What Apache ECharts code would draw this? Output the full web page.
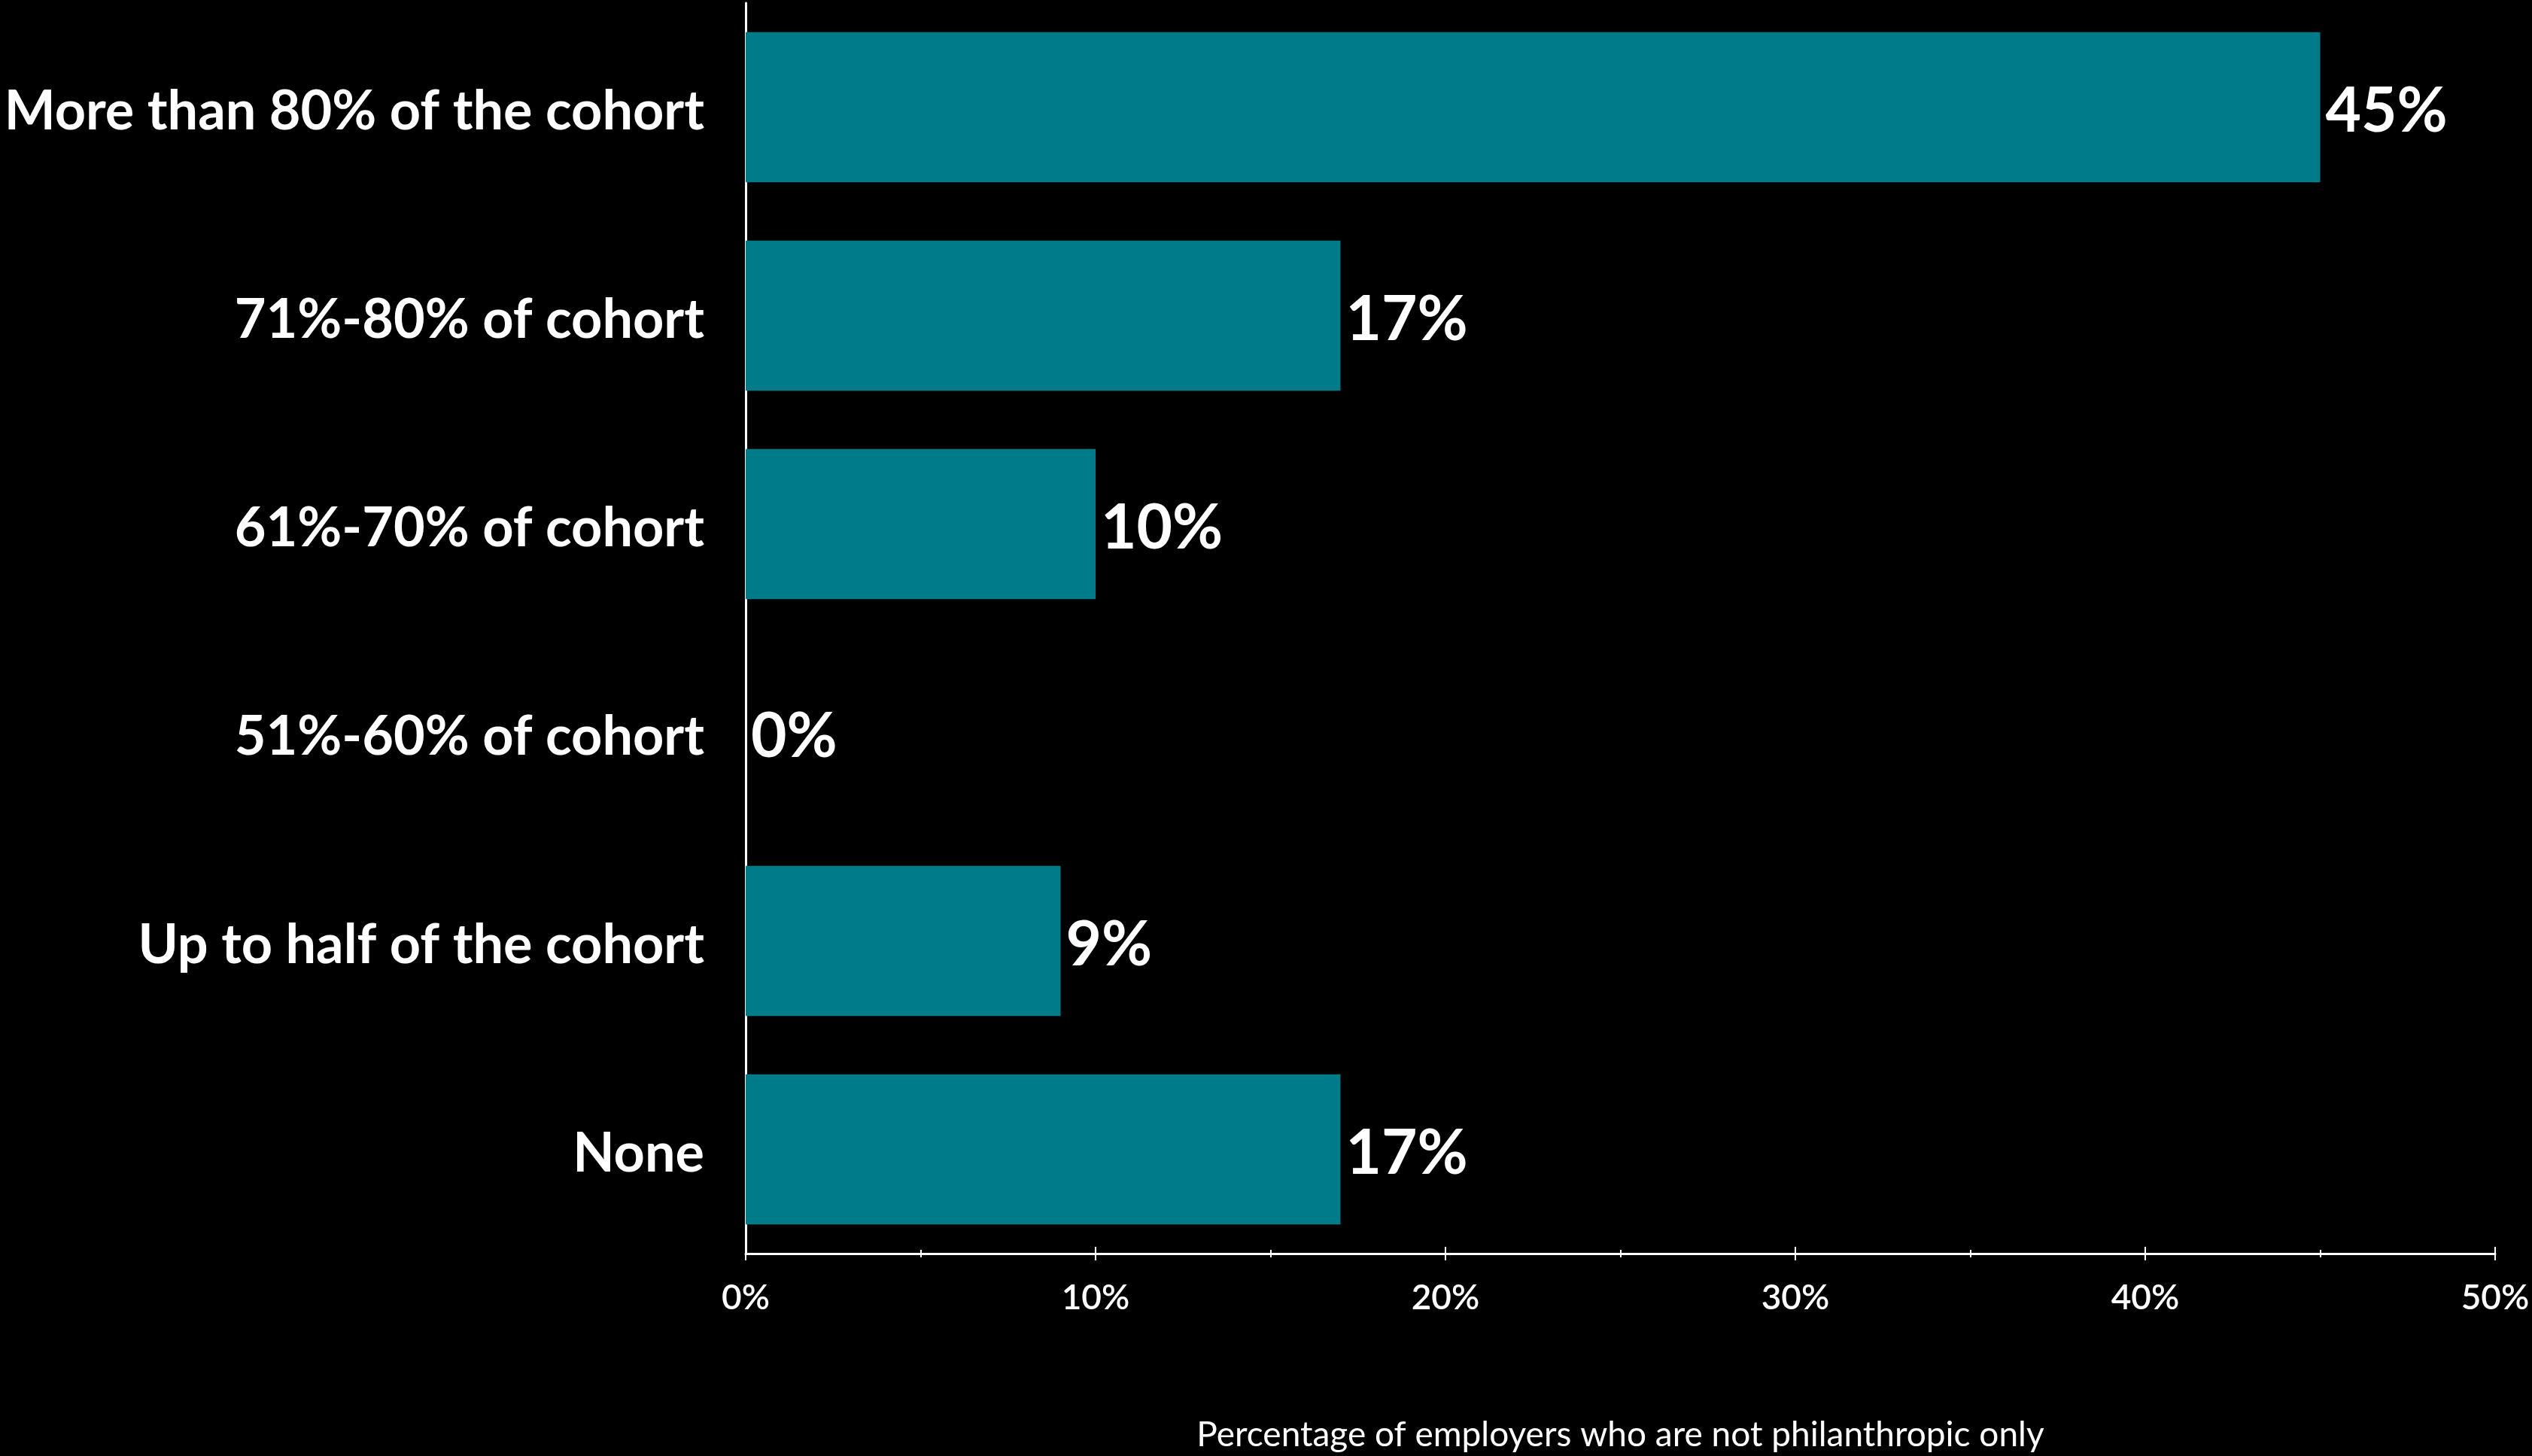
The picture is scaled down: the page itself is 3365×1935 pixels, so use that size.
<!DOCTYPE html>
<html>
<head>
<meta charset="utf-8">
<script src="https://cdn.jsdelivr.net/npm/echarts@6/dist/echarts.min.js"></script>
<style>
html,body{margin:0;padding:0;background:#000;}
#chart{width:3365px;height:1935px;}
</style>
</head>
<body>
<div id="chart"></div>
<script>
var categories = ["More than 80% of the cohort", "71%-80% of cohort", "61%-70% of cohort", "51%-60% of cohort", "Up to half of the cohort", "None"];
var values = [45, 17, 10, 0, 9, 17];
var axisTitle = "Percentage of employers who are not philanthropic only";
var xMin = 0, xMax = 50, xInterval = 10;

var chart = echarts.init(document.getElementById('chart'));
var FONT = 'Lato';
chart.setOption({
  backgroundColor: '#000000',
  animation: false,
  grid: {left: 991, right: 49, top: 4, bottom: 268, containLabel: false},
  xAxis: [{
    type: 'value', min: xMin, max: xMax, interval: xInterval, position: 'bottom',
    axisLine: {show: true, lineStyle: {color: '#ffffff', width: 3}},
    axisTick: {show: true, length: 9, lineStyle: {color: '#ffffff', width: 2}},
    minorTick: {show: true, splitNumber: 2, length: 5, lineStyle: {color: '#ffffff', width: 2}},
    splitLine: {show: false},
    axisLabel: {color: '#ffffff', fontFamily: FONT, fontSize: 46, fontWeight: 600, margin: 36,
      formatter: function (v) { return v + '%'; }},
    name: axisTitle, nameLocation: 'middle', nameGap: 218,
    nameTextStyle: {color: '#ffffff', fontFamily: FONT, fontSize: 46}
  }, {
    type: 'value', min: xMin, max: xMax, interval: xInterval, position: 'bottom',
    axisLine: {show: false},
    axisTick: {show: true, inside: true, length: 9, lineStyle: {color: '#ffffff', width: 2}},
    minorTick: {show: true, splitNumber: 2, length: 5, lineStyle: {color: '#ffffff', width: 2}},
    splitLine: {show: false},
    axisLabel: {show: false}
  }],
  yAxis: {
    type: 'category', data: categories, inverse: true,
    axisLine: {show: true, lineStyle: {color: '#ffffff', width: 3}},
    axisTick: {show: false},
    axisLabel: {margin: 55, align: 'right',
      formatter: function (v) { return '{c|' + v + '}'; },
      rich: {c: {color: '#ffffff', fontFamily: FONT, fontSize: 72, fontWeight: 'bold', padding: [12, 0, 0, 0]}}}
  },
  series: [{
    type: 'bar', data: values, xAxisIndex: 0,
    barCategoryGap: '28%',
    itemStyle: {color: '#007B8A'},
    label: {show: true, position: 'right', distance: 7, color: '#ffffff', offset: [0, 6],
      fontFamily: FONT, fontSize: 82, fontWeight: 'bold',
      formatter: function (p) { return p.value + '%'; }}
  }]
});
</script>
</body>
</html>
